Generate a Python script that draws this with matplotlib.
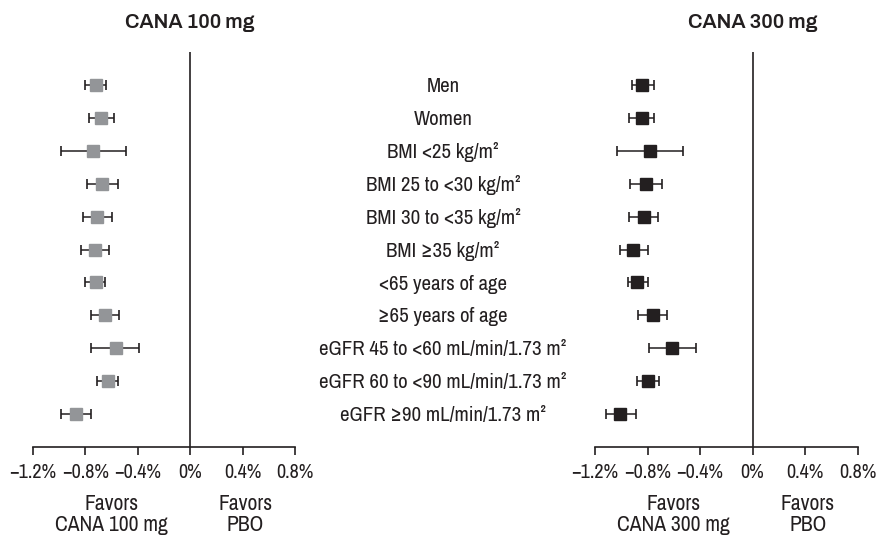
import matplotlib
matplotlib.use("Agg")
from matplotlib import pyplot as plt
from matplotlib import transforms

plt.rcParams['font.family'] = ['Archivo Narrow', 'DejaVu Sans']

# subgroup labels (top to bottom)
subgroups = [
    "Men",
    "Women",
    "BMI <25 kg/m²",
    "BMI 25 to <30 kg/m²",
    "BMI 30 to <35 kg/m²",
    "BMI ≥35 kg/m²",
    "<65 years of age",
    "≥65 years of age",
    "eGFR 45 to <60 mL/min/1.73 m²",
    "eGFR 60 to <90 mL/min/1.73 m²",
    "eGFR ≥90 mL/min/1.73 m²",
]

# change in HbA1c vs placebo (%), with 95% CI
cana100_mean = [-0.72, -0.68, -0.74, -0.67, -0.71, -0.73, -0.72, -0.65, -0.57, -0.63, -0.87]
cana100_lo = [-0.80, -0.77, -0.99, -0.79, -0.82, -0.83, -0.80, -0.76, -0.76, -0.71, -0.99]
cana100_hi = [-0.64, -0.58, -0.49, -0.55, -0.60, -0.62, -0.65, -0.54, -0.39, -0.55, -0.76]

cana300_mean = [-0.84, -0.84, -0.78, -0.81, -0.83, -0.91, -0.88, -0.76, -0.61, -0.80, -1.01]
cana300_lo = [-0.92, -0.94, -1.03, -0.93, -0.94, -1.01, -0.95, -0.87, -0.79, -0.88, -1.12]
cana300_hi = [-0.75, -0.75, -0.53, -0.69, -0.72, -0.80, -0.80, -0.65, -0.43, -0.71, -0.89]

ticks = [-1.2, -0.8, -0.4, 0, 0.4, 0.8]
tick_labels = ["−1.2%", "−0.8%", "−0.4%", "0%", "0.4%", "0.8%"]

dark = "#231f20"
grey = "#939598"

fig = plt.figure(figsize=(8.76, 5.35), dpi=100)
ax1 = fig.add_axes([33 / 876, 88 / 535, 262 / 876, 395 / 535])
ax2 = fig.add_axes([595 / 876, 88 / 535, 262.7 / 876, 395 / 535])

panels = [
    (ax1, cana100_mean, cana100_lo, cana100_hi, grey, "CANA 100 mg"),
    (ax2, cana300_mean, cana300_lo, cana300_hi, dark, "CANA 300 mg"),
]

ypos = list(range(len(subgroups)))

for ax, mean, lo, hi, col, name in panels:
    err = [[m - l for m, l in zip(mean, lo)], [h - m for m, h in zip(mean, hi)]]
    ax.errorbar(mean, ypos, xerr=err, fmt="none", ecolor=dark, elinewidth=1.1,
                capsize=3.8, capthick=1.2, zorder=2)
    ax.plot(mean, ypos, "s", color=col, markersize=8.2, zorder=3, linestyle="none")
    ax.axvline(0, color=dark, linewidth=1.2, zorder=1)
    ax.set_xlim(-1.2, 0.8)
    ax.set_ylim(11, -1)
    ax.set_xticks(ticks)
    ax.set_xticklabels(tick_labels, fontsize=14.5, color=dark)
    ax.set_yticks([])
    for s in ["left", "top", "right"]:
        ax.spines[s].set_visible(False)
    ax.spines["bottom"].set_color(dark)
    ax.spines["bottom"].set_linewidth(1.2)
    ax.tick_params(axis="x", direction="out", length=5.5, width=1.2, color=dark, pad=6)

    tr = transforms.blended_transform_factory(ax.transData, ax.transAxes)
    ax.text(0, 1.075, name, transform=tr, ha="center", va="center",
            fontsize=14.5, fontweight="bold", family=["Archivo", "DejaVu Sans"], color=dark)
    ax.text(-0.6, -0.118, "Favors\n" + name, transform=tr, ha="center", va="top",
            fontsize=15.5, color=dark, linespacing=1.1)
    ax.text(0.42, -0.118, "Favors\nPBO", transform=tr, ha="center", va="top",
            fontsize=15.5, color=dark, linespacing=1.1)

trl = transforms.blended_transform_factory(fig.transFigure, ax1.transData)
for i, lab in enumerate(subgroups):
    fig.text(443 / 876, i + 0.05, lab, transform=trl, ha="center", va="center",
             fontsize=15, color=dark)

fig.savefig("out.png", dpi=100)
